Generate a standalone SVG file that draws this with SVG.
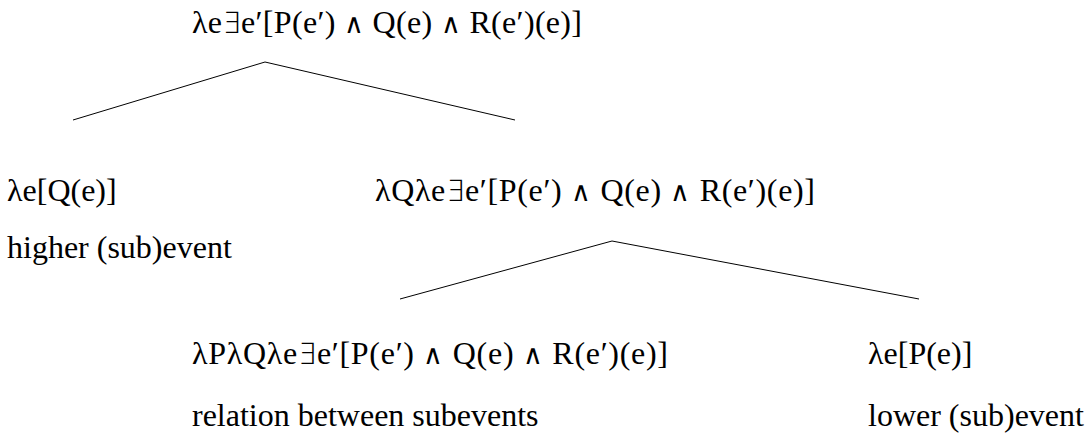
<svg xmlns="http://www.w3.org/2000/svg" width="1088" height="436" viewBox="0 0 1088 436">
<style>
text{font-family:"Liberation Serif","Times New Roman",serif;font-size:32px;fill:#000}
.op{font-family:"DejaVu Sans",sans-serif;font-weight:200;font-size:27px}
.ex{font-family:"DejaVu Sans",sans-serif;font-weight:200;font-size:29px}
.edge{stroke:#000;stroke-width:1;fill:none}
</style>
<rect width="1088" height="436" fill="#fff"/>
<g id="connectors">
<polyline class="edge" points="73,120 265,62 515,120"/>
<polyline class="edge" points="400,299 612,241 919,299"/>
</g>
<g id="root"><text x="192" y="33" textLength="390" lengthAdjust="spacing">λe<tspan class="ex">∃</tspan>e′[P(e′) <tspan class="op">∧</tspan> Q(e) <tspan class="op">∧</tspan> R(e′)(e)]</text></g>
<g id="higher"><text x="7" y="201">λe[Q(e)]</text><text x="7" y="258">higher (sub)event</text></g>
<g id="mid"><text x="375" y="201" textLength="440" lengthAdjust="spacing">λQλe<tspan class="ex">∃</tspan>e′[P(e′) <tspan class="op">∧</tspan> Q(e) <tspan class="op">∧</tspan> R(e′)(e)]</text></g>
<g id="relation"><text x="192" y="364" textLength="476" lengthAdjust="spacing">λPλQλe<tspan class="ex">∃</tspan>e′[P(e′) <tspan class="op">∧</tspan> Q(e) <tspan class="op">∧</tspan> R(e′)(e)]</text><text x="192" y="426">relation between subevents</text></g>
<g id="lower"><text x="868" y="364">λe[P(e)]</text><text x="868" y="426">lower (sub)event</text></g>
</svg>
